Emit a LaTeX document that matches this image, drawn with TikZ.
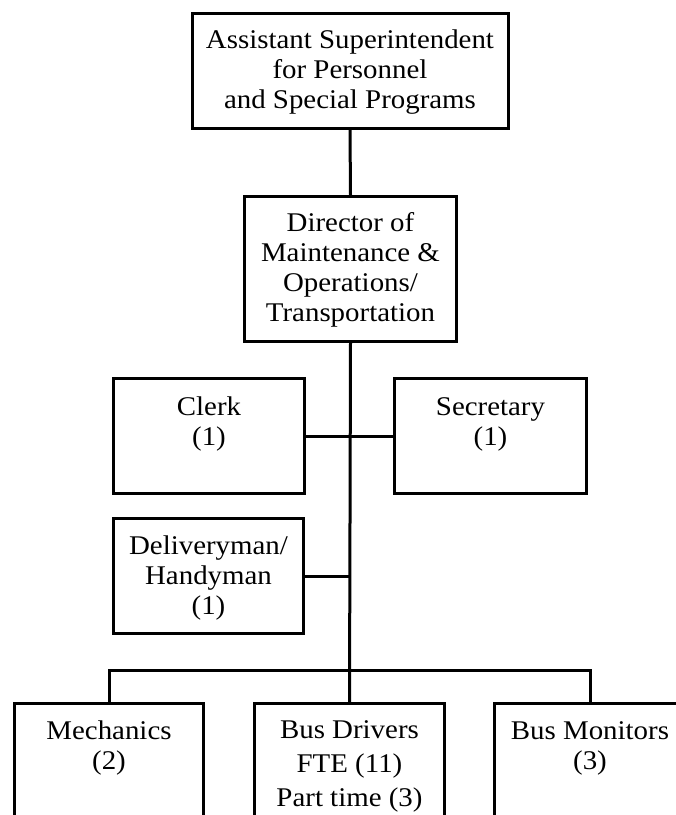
\documentclass[tikz,border=0pt]{standalone}
\usepackage{fontspec}
\setmainfont{Liberation Serif}[FakeStretch=1.07]
\begin{document}
\begin{tikzpicture}[x=1pt,y=-1pt,
  line width=3pt,
  box/.style={draw=black, line width=3pt, rectangle, inner sep=0pt},
  lbl/.style={anchor=north, inner sep=0pt, align=center,
    font=\fontsize{27}{30}\selectfont},
  wide/.style={font=\fontsize{27}{34}\selectfont},
]
\clip (0,0) rectangle (676,815);
\fill[white] (0,0) rectangle (676,815);

% boxes (outlines only)
\node[box, minimum width=316pt, minimum height=115pt] (asst) at (350,71) {};
\node[box, minimum width=212pt, minimum height=145pt] (dir) at (350.5,269) {};
\node[box, minimum width=191pt, minimum height=115pt] (clerk) at (209,436) {};
\node[box, minimum width=192pt, minimum height=115pt] (sec) at (490.5,436) {};
\node[box, minimum width=190pt, minimum height=115pt] (deliv) at (208.5,576) {};
\node[box, minimum width=189pt, minimum height=140pt] (mech) at (109,773.5) {};
\node[box, minimum width=190pt, minimum height=140pt] (drv) at (349.5,773.5) {};
\node[box, minimum width=191pt, minimum height=140pt] (mon) at (590,773.5) {};

% labels, set from the top of each box
\newcommand{\topstrut}{\rule{0pt}{20pt}}
\node[lbl] (asstT) at ([yshift=-15pt]asst.north)
  {\topstrut Assistant Superintendent\\for Personnel\\and Special Programs};
\node[lbl] (dirT) at ([yshift=-15pt]dir.north)
  {\topstrut Director of\\Maintenance \&\\Operations/\\Transportation};
\node[lbl] (clerkT) at ([yshift=-17pt]clerk.north) {\topstrut Clerk\\(1)};
\node[lbl] (secT) at ([yshift=-17pt]sec.north) {\topstrut Secretary\\(1)};
\node[lbl] (delivT) at ([yshift=-16pt]deliv.north)
  {\topstrut Deliveryman/\\Handyman\\(1)};
\node[lbl] (mechT) at ([yshift=-16pt]mech.north) {\topstrut Mechanics\\(2)};
\node[lbl, wide] (drvT) at ([yshift=-15pt]drv.north)
  {\topstrut Bus Drivers\\FTE (11)\\Part time (3)};
\node[lbl] (monT) at ([yshift=-16pt]mon.north) {\topstrut Bus Monitors\\(3)};

% connectors
\coordinate (trunkD) at (349.5,576);
\coordinate (bus) at (349.5,670);
\coordinate (busL) at (mech.north |- bus);
\coordinate (busR) at (mon.north |- bus);
\draw (asst.south) -- (dir.north);
\draw (dir.south) -- (drv.north);
\draw (clerk.east) -- (sec.west);
\draw (deliv.east) -- (trunkD);
\draw[line cap=rect] (mech.north) -- (busL) -- (busR) -- (mon.north);
\end{tikzpicture}
\end{document}
